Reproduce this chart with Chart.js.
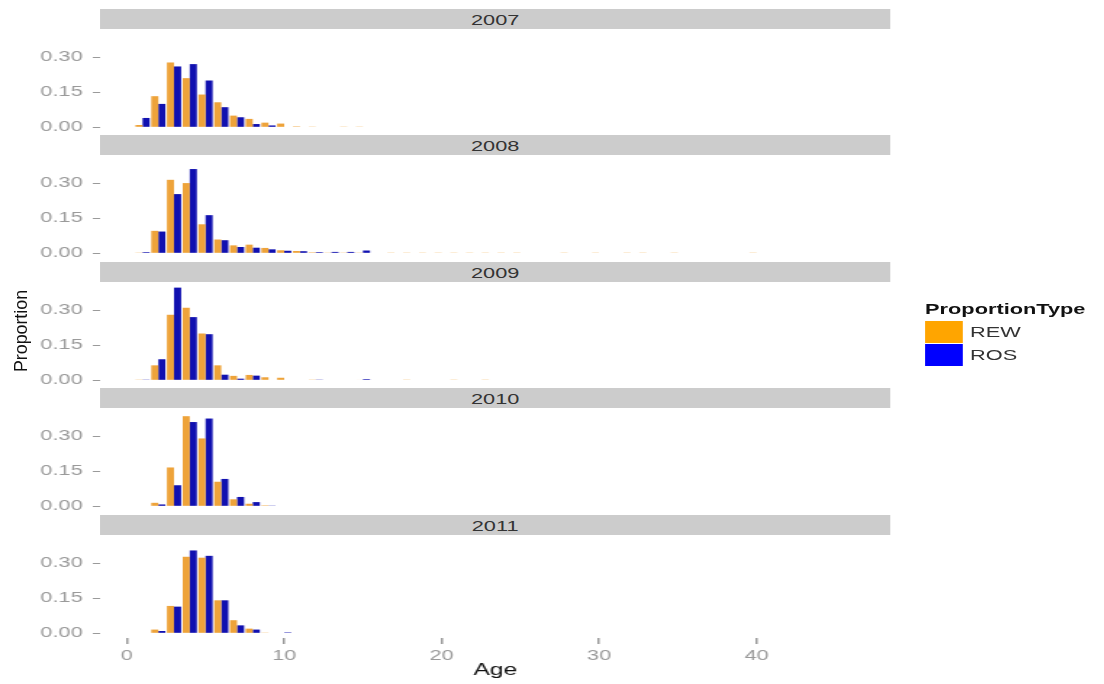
<!DOCTYPE html>
<html>
<head>
<meta charset="utf-8">
<script src="https://cdn.jsdelivr.net/npm/chart.js@4.4.1/dist/chart.umd.min.js"></script>
<style>
  html, body { margin: 0; padding: 0; background: #fff; overflow: hidden; }
  /* the reference figure is stretched sideways, so draw narrow and widen it */
  #fig { position: absolute; left: 0; top: 0; width: 762px; height: 684px;
         transform: scaleX(1.45); transform-origin: 0 0;
         font-family: "Liberation Sans", Arial, sans-serif; }
  .panel { position: absolute; left: 0; }
  .strip { position: absolute; left: 69px; width: 545px; height: 20px; background: #cccccc;
           color: #333; font-size: 15px; line-height: 21px; text-align: center; }
  #ylab { position: absolute; left: 14px; top: 331px; font-size: 13px; color: #111;
          transform: translate(-50%, -50%) rotate(-90deg) scaleX(1.37); white-space: nowrap; }
  #legend { position: absolute; left: 638px; top: 300px; }
  #legend .ttl { font-weight: bold; font-size: 15px; color: #111; margin-bottom: 3px; }
  #legend .row { display: flex; align-items: center; height: 23px; }
  #legend .key { width: 26px; height: 22px; margin-right: 5px; }
  #legend .lbl { font-size: 15px; color: #333; }
</style>
</head>
<body>
<div id="fig">
  <div id="ylab">Proportion</div>
  <div id="legend"></div>
</div>
<script>
var years = ["2007", "2008", "2009", "2010", "2011"];
var ages = [1, 2, 3, 4, 5, 6, 7, 8, 9, 10, 11, 12, 13, 14, 15, 16, 17, 18, 19, 20,
            21, 22, 23, 24, 25, 26, 27, 28, 29, 30, 31, 32, 33, 34, 35, 36, 37, 38, 39, 40];

// proportion by age (1..40), one array per year and type
var rew2007 = [0.010, 0.133, 0.277, 0.210, 0.140, 0.107, 0.050, 0.036, 0.020, 0.016, 0.004, 0.003, 0, 0.003, 0.003, 0, 0, 0, 0, 0,
               0, 0, 0, 0, 0, 0, 0, 0, 0, 0, 0, 0, 0, 0, 0, 0, 0, 0, 0, 0];
var ros2007 = [0.040, 0.100, 0.260, 0.270, 0.200, 0.086, 0.043, 0.014, 0.008, 0, 0, 0, 0, 0, 0, 0, 0, 0, 0, 0,
               0, 0, 0, 0, 0, 0, 0, 0, 0, 0, 0, 0, 0, 0, 0, 0, 0, 0, 0, 0];
var rew2008 = [0.003, 0.096, 0.314, 0.300, 0.124, 0.059, 0.034, 0.037, 0.023, 0.013, 0.010, 0.004, 0.003, 0.003, 0.003, 0, 0.003, 0.003, 0.003, 0.003,
               0.003, 0.003, 0.003, 0.003, 0.003, 0, 0, 0.003, 0, 0.003, 0, 0.003, 0.003, 0, 0.003, 0, 0, 0, 0, 0.003];
var ros2008 = [0.005, 0.093, 0.253, 0.360, 0.163, 0.056, 0.027, 0.024, 0.017, 0.011, 0.009, 0.005, 0.006, 0.006, 0.012, 0, 0, 0, 0, 0,
               0, 0, 0, 0, 0, 0, 0, 0, 0, 0, 0, 0, 0, 0, 0, 0, 0, 0, 0, 0];
var rew2009 = [0.003, 0.064, 0.280, 0.310, 0.200, 0.064, 0.019, 0.023, 0.013, 0.011, 0, 0.003, 0, 0, 0.002, 0, 0, 0.003, 0, 0,
               0.003, 0, 0.003, 0, 0, 0, 0, 0, 0, 0, 0, 0, 0, 0, 0, 0, 0, 0, 0, 0];
var ros2009 = [0.003, 0.090, 0.396, 0.270, 0.197, 0.024, 0.007, 0.020, 0, 0, 0, 0.003, 0, 0, 0.005, 0, 0, 0, 0, 0,
               0, 0, 0, 0, 0, 0, 0, 0, 0, 0, 0, 0, 0, 0, 0, 0, 0, 0, 0, 0];
var rew2010 = [0, 0.015, 0.166, 0.385, 0.290, 0.105, 0.030, 0.011, 0.004, 0, 0, 0, 0, 0, 0, 0, 0, 0, 0, 0,
               0, 0, 0, 0, 0, 0, 0, 0, 0, 0, 0, 0, 0, 0, 0, 0, 0, 0, 0, 0];
var ros2010 = [0, 0.008, 0.090, 0.360, 0.375, 0.117, 0.040, 0.018, 0.003, 0, 0, 0, 0, 0, 0, 0, 0, 0, 0, 0,
               0, 0, 0, 0, 0, 0, 0, 0, 0, 0, 0, 0, 0, 0, 0, 0, 0, 0, 0, 0];
var rew2011 = [0, 0.016, 0.117, 0.327, 0.323, 0.141, 0.056, 0.020, 0.003, 0, 0, 0, 0, 0, 0, 0, 0, 0, 0, 0,
               0, 0, 0, 0, 0, 0, 0, 0, 0, 0, 0, 0, 0, 0, 0, 0, 0, 0, 0, 0];
var ros2011 = [0, 0.010, 0.114, 0.354, 0.331, 0.141, 0.034, 0.016, 0, 0.004, 0, 0, 0, 0, 0, 0, 0, 0, 0, 0,
               0, 0, 0, 0, 0, 0, 0, 0, 0, 0, 0, 0, 0, 0, 0, 0, 0, 0, 0, 0];

var rewByYear = [rew2007, rew2008, rew2009, rew2010, rew2011];
var rosByYear = [ros2007, ros2008, ros2009, ros2010, ros2011];

var xTicks = [0, 10, 20, 30, 40];
var yTicks = [0, 0.15, 0.30];
var seriesNames = ["REW", "ROS"];

var barColors = ["#eea33a", "#1010b0"];
var keyColors = ["#ffa500", "#0000ff"];
var font = "'Liberation Sans', Arial, sans-serif";
var grey = "#9a9a9a";

var fig = document.getElementById("fig");
var panelH = 103, stripH = 20, bottomH = 149;
var panelTops = [29, 155, 282, 408, 535];

function toPoints(vals) {
    return ages.map(function(a, k) { return { x: a, y: vals[k] }; });
}

years.forEach(function(year, i) {
    var last = i === years.length - 1;

    var strip = document.createElement("div");
    strip.className = "strip";
    strip.style.top = (panelTops[i] - stripH) + "px";
    strip.textContent = year;
    fig.appendChild(strip);

    var canvas = document.createElement("canvas");
    canvas.className = "panel";
    canvas.width = 614;
    canvas.height = last ? bottomH : panelH;
    canvas.style.top = panelTops[i] + "px";
    fig.appendChild(canvas);

    new Chart(canvas, {
        type: "bar",
        data: {
            datasets: [
                { label: seriesNames[0], data: toPoints(rewByYear[i]), backgroundColor: barColors[0] },
                { label: seriesNames[1], data: toPoints(rosByYear[i]), backgroundColor: barColors[1] }
            ]
        },
        options: {
            animation: false,
            responsive: false,
            layout: { padding: 0 },
            plugins: { legend: { display: false }, tooltip: { enabled: false } },
            datasets: { bar: { categoryPercentage: 0.9, barPercentage: 1.0, borderWidth: 0 } },
            scales: {
                x: {
                    type: "linear",
                    min: -1.7,
                    max: 48.5,
                    offset: false,
                    display: last,
                    border: { display: false },
                    grid: { drawOnChartArea: false, offset: false, tickLength: 6, color: grey, lineWidth: 1.5 },
                    ticks: { color: grey, padding: 3, font: { size: 15, family: font } },
                    title: { display: true, text: "Age", color: "#111",
                             font: { size: 17, family: font }, padding: { top: 0, bottom: 3 } },
                    afterBuildTicks: function(s) { s.ticks = xTicks.map(function(v) { return { value: v }; }); },
                    afterFit: function(s) {
                        s.height = last ? bottomH - panelH : 0;
                        s.paddingLeft = 0; s.paddingRight = 0;
                    }
                },
                y: {
                    min: -0.02,
                    max: 0.42,
                    border: { display: false },
                    grid: { drawOnChartArea: false, tickLength: 5, color: grey },
                    ticks: { color: grey, padding: 7, font: { size: 15, family: font },
                             callback: function(v) { return v.toFixed(2); } },
                    afterBuildTicks: function(s) { s.ticks = yTicks.map(function(v) { return { value: v }; }); },
                    afterFit: function(s) { s.width = 69; s.paddingTop = 0; s.paddingBottom = 0; }
                }
            }
        }
    });
});

// legend on the right
var legend = document.getElementById("legend");
var html = '<div class="ttl">ProportionType</div>';
seriesNames.forEach(function(name, k) {
    html += '<div class="row"><div class="key" style="background:' + keyColors[k] + '"></div>' +
            '<div class="lbl">' + name + '</div></div>';
});
legend.innerHTML = html;
</script>
</body>
</html>
